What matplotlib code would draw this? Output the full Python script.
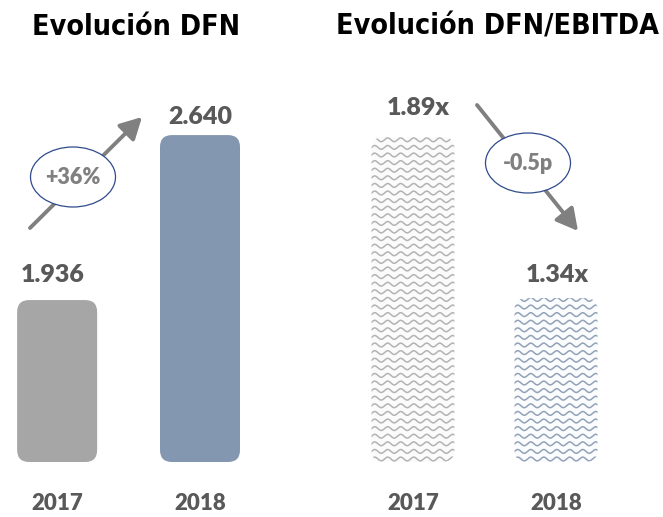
import numpy as np
import matplotlib.pyplot as plt
from matplotlib.patches import FancyBboxPatch, Ellipse
from matplotlib.lines import Line2D
from matplotlib.transforms import IdentityTransform

# datos
years = ["2017", "2018"]
dfn = [1936, 2640]
dfn_labels = ["1.936", "2.640"]
ratio = [1.89, 1.34]
ratio_labels = ["1.89x", "1.34x"]
dfn_change = "+36%"
ratio_change = "-0.5p"

W, H = 663, 517
fig = plt.figure(figsize=(W / 100, H / 100), dpi=100)

num_font = "Lato"
grey_txt = "#595959"


def rounded_bars(ax, x, vals, width, colors, radius_px=12):
    """ replace ax.bar rectangles by rounded boxes (radius in pixels) """
    ax_w = ax.get_position().width * W
    ax_h = ax.get_position().height * H
    xpp = np.diff(ax.get_xlim())[0] / ax_w
    ypp = np.diff(ax.get_ylim())[0] / ax_h
    bars = ax.bar(x, np.array(vals) - ax.get_ylim()[0], width,
                  bottom=ax.get_ylim()[0], color=colors)
    out = []
    for b, c in zip(bars, colors):
        bx, by, bw, bh = b.get_x(), b.get_y(), b.get_width(), b.get_height()
        b.remove()
        p = FancyBboxPatch((bx, by), bw, bh,
                           boxstyle=f"round,pad=0,rounding_size={radius_px * xpp}",
                           mutation_aspect=ypp / xpp, fc=c, ec="none")
        ax.add_patch(p)
        out.append(p)
    return out


def wavy_fill(ax, patch, color):
    """ wavy pattern inside a patch (drawn in pixels, clipped to the patch) """
    bb = patch.get_window_extent()
    xs = np.arange(bb.x0 - 2, bb.x1 + 2, 0.5)
    for yr in np.arange(bb.y0 + 3, bb.y1, 7.6):
        ys = yr + 1.9 * np.sin(2 * np.pi * (xs - bb.x0) / 13)
        ln = Line2D(xs, ys, transform=IdentityTransform(), color=color, lw=1.1)
        ln.set_clip_path(patch)
        ax.add_artist(ln)


def style(ax):
    for s in ax.spines.values():
        s.set_visible(False)
    ax.set_yticks([])
    ax.set_xticks([0, 1], years)
    ax.tick_params(axis="x", length=0, pad=22)
    for t in ax.get_xticklabels():
        t.set_fontsize(16)
        t.set_fontweight("heavy")
        t.set_color(grey_txt)
        t.set_family(num_font)
    ax.patch.set_alpha(0)


# --- Evolucion DFN ---
ax1 = fig.add_axes([0, 55 / H, 260 / W, 382 / H])
ax1.set_xlim(-0.4, 1.42)
ax1.set_ylim(1245, 2875)
rounded_bars(ax1, [0, 1], dfn, 0.56, ["#a6a6a6", "#8497b0"])
offs = [(-3, 13), (0, 8)]
for i, (v, lbl) in enumerate(zip(dfn, dfn_labels)):
    ax1.annotate(lbl, (i, v), xytext=offs[i], textcoords="offset points",
                 ha="center", va="baseline", fontsize=18, fontweight="heavy",
                 color=grey_txt, family=num_font)
style(ax1)

# --- Evolucion DFN/EBITDA ---
ax2 = fig.add_axes([330 / W, 55 / H, 333 / W, 382 / H])
ax2.set_xlim(-0.58, 1.748)
ax2.set_ylim(0.78, 2.085)
pr = rounded_bars(ax2, [0, 1], ratio, 0.58, ["#fbfbfb", "#fbfcfd"])
wavy_fill(ax2, pr[0], "#b3b3b3")
wavy_fill(ax2, pr[1], "#93a2b8")
offs = [(4, 16), (1, 11.5)]
for i, (v, lbl) in enumerate(zip(ratio, ratio_labels)):
    ax2.annotate(lbl, (i, v), xytext=offs[i], textcoords="offset points",
                 ha="center", va="baseline", fontsize=18, fontweight="heavy",
                 color=grey_txt, family=num_font)
style(ax2)

# titulos
for cx, txt in [(136, "Evolución DFN"), (497, "Evolución DFN/EBITDA")]:
    fig.text(cx / W, 1 - 27 / H, txt, ha="center", va="center",
             fontsize=20.5, fontweight="bold", family="DejaVu Sans",
             fontstretch="condensed", color="black")

# flechas + elipses (capa en pixeles)
ov = fig.add_axes([0, 0, 1, 1], zorder=5)
ov.set_xlim(0, W)
ov.set_ylim(H, 0)
ov.axis("off")
ov.patch.set_alpha(0)

arrow = dict(arrowstyle="-|>,head_length=0.65,head_width=0.35", lw=2.8,
             color="#808080", shrinkA=0, shrinkB=0, mutation_scale=20)
ov.annotate("", xy=(142, 117), xytext=(30, 228), arrowprops=arrow)
ov.annotate("", xy=(578, 231), xytext=(477, 105), arrowprops=arrow)

for (cx, cy), txt in [((73, 177), dfn_change), ((528, 163), ratio_change)]:
    ov.add_patch(Ellipse((cx, cy), 85, 60, fc="white", ec="#2f4b8c", lw=0.9, zorder=3))
    ov.text(cx, cy + 1, txt, ha="center", va="center", fontsize=15.5,
            fontweight="heavy", color="#808080", family=num_font, zorder=4)

fig.savefig("out.png", dpi=100)
